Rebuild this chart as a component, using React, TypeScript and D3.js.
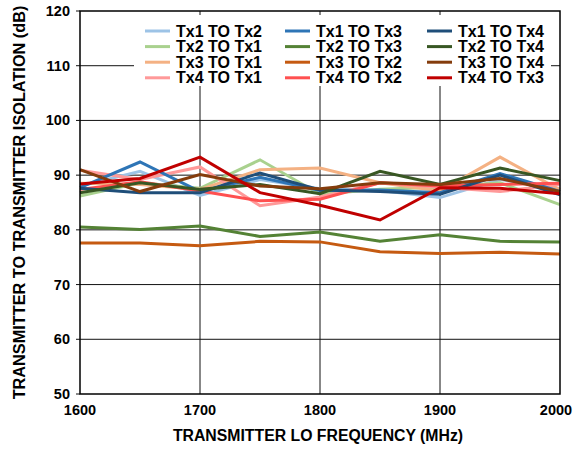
import React from "react";
import * as d3 from "d3";

const freqs = [1600, 1650, 1700, 1750, 1800, 1850, 1900, 1950, 2000];
const xTicks = [1600, 1700, 1800, 1900, 2000];
const yTicks = [50, 60, 70, 80, 90, 100, 110, 120];

// isolation (dB) per path
const tx1ToTx2 = [88, 90.7, 86.3, 89.2, 87.5, 87.2, 85.9, 89.2, 87.5];
const tx1ToTx3 = [87.7, 92.4, 87, 89.6, 87.2, 87.3, 86.8, 90.3, 87];
const tx1ToTx4 = [87.6, 86.8, 86.8, 90.4, 87.3, 87, 86.5, 90, 86.4];
const tx2ToTx1 = [86.2, 88.6, 87.6, 92.8, 86.5, 87.4, 87.8, 88.6, 84.6];
const tx2ToTx3 = [80.5, 80.05, 80.7, 78.8, 79.6, 77.9, 79.1, 77.9, 77.8];
const tx2ToTx4 = [86.8, 88.6, 87.4, 88.3, 86.6, 90.7, 88.3, 91.3, 89];
const tx3ToTx1 = [88.5, 88.3, 87.4, 91, 91.3, 88.6, 87.1, 93.3, 87.3];
const tx3ToTx2 = [77.6, 77.6, 77.1, 77.9, 77.8, 76, 75.7, 75.9, 75.6];
const tx3ToTx4 = [91, 87, 90.1, 88, 87.5, 88.6, 88.3, 89.4, 87];
const tx4ToTx1 = [90.9, 89.2, 91.5, 84.4, 86, 88.6, 87.8, 87, 88.3];
const tx4ToTx2 = [87.4, 88.8, 87.1, 85.3, 85.6, 88.6, 88, 88.3, 88.5];
const tx4ToTx3 = [88.4, 89.4, 93.3, 86.8, 84.5, 81.8, 87.7, 87.6, 86.6];

const series = [
  { name: "Tx1 TO Tx2", color: "#9dc3e6", values: tx1ToTx2 },
  { name: "Tx2 TO Tx1", color: "#a9d18e", values: tx2ToTx1 },
  { name: "Tx3 TO Tx1", color: "#f4b183", values: tx3ToTx1 },
  { name: "Tx4 TO Tx1", color: "#ff9999", values: tx4ToTx1 },
  { name: "Tx1 TO Tx3", color: "#2e75b6", values: tx1ToTx3 },
  { name: "Tx2 TO Tx3", color: "#548235", values: tx2ToTx3 },
  { name: "Tx3 TO Tx2", color: "#c55a11", values: tx3ToTx2 },
  { name: "Tx4 TO Tx2", color: "#ff5050", values: tx4ToTx2 },
  { name: "Tx1 TO Tx4", color: "#1f4e79", values: tx1ToTx4 },
  { name: "Tx2 TO Tx4", color: "#385723", values: tx2ToTx4 },
  { name: "Tx3 TO Tx4", color: "#843c0c", values: tx3ToTx4 },
  { name: "Tx4 TO Tx3", color: "#c00000", values: tx4ToTx3 },
];

const App = () => {
  const width = 574;
  const height = 449;
  const left = 80;
  const right = 560;
  const top = 11;
  const bottom = 394;

  const x = d3.scaleLinear().domain([1600, 2000]).range([left, right]);
  const y = d3.scaleLinear().domain([50, 120]).range([bottom, top]);

  const line = d3
    .line<number>()
    .x((_, i) => x(freqs[i]))
    .y((d) => y(d));

  const font = "Arial, 'Liberation Sans', sans-serif";

  // legend: 3 columns x 4 rows
  const legendCols = [145, 285, 427];
  const legendRowY = (i: number) => 31 + i * 15.6;

  return (
    <svg
      width={width}
      height={height}
      style={{ position: "absolute", left: 0, top: 0, background: "#fff" }}
      fontFamily={font}
      fontWeight="bold"
    >
      {/* grid */}
      <g stroke="#111" strokeWidth={1}>
        {xTicks.slice(1, -1).map((t) => (
          <line key={"gx" + t} x1={x(t)} x2={x(t)} y1={top} y2={bottom} />
        ))}
        {yTicks.slice(1, -1).map((t) => (
          <line key={"gy" + t} x1={left} x2={right} y1={y(t)} y2={y(t)} />
        ))}
        {yTicks.map((t) => (
          <line key={"ty" + t} x1={left - 4} x2={left} y1={y(t)} y2={y(t)} />
        ))}
      </g>

      {/* legend box covers the grid */}
      <rect x={134} y={15} width={417} height={71} fill="#fff" />

      {/* series */}
      <g fill="none" strokeWidth={3} strokeLinejoin="miter">
        {series.map((s) => (
          <path key={s.name} d={line(s.values) ?? ""} stroke={s.color} />
        ))}
      </g>

      {/* frame */}
      <rect
        x={left}
        y={top}
        width={right - left}
        height={bottom - top}
        fill="none"
        stroke="#000"
        strokeWidth={1.5}
      />

      {/* legend */}
      {series.map((s, i) => {
        const col = Math.floor(i / 4);
        const row = i % 4;
        const lx = legendCols[col];
        const ly = legendRowY(row);
        return (
          <g key={"lg" + s.name}>
            <line
              x1={lx}
              x2={lx + 25}
              y1={ly}
              y2={ly}
              stroke={s.color}
              strokeWidth={3}
            />
            <text x={lx + 31} y={ly + 5.5} fontSize={16} fill="#000">
              {s.name}
            </text>
          </g>
        );
      })}

      {/* y tick labels */}
      {yTicks.map((t) => (
        <text
          key={"yl" + t}
          x={left - 10}
          y={y(t) + 5}
          textAnchor="end"
          fontSize={14.5}
        >
          {t}
        </text>
      ))}

      {/* x tick labels */}
      {xTicks.map((t) => (
        <text
          key={"xl" + t}
          x={t === 2000 ? x(t) - 4 : x(t)}
          y={415}
          textAnchor="middle"
          fontSize={14.5}
        >
          {t}
        </text>
      ))}

      <text x={318} y={441} textAnchor="middle" fontSize={15.8}>
        TRANSMITTER LO FREQUENCY (MHz)
      </text>
      <text
        transform={`translate(25,${(top + bottom) / 2}) rotate(-90)`}
        textAnchor="middle"
        fontSize={16.3}
      >
        TRANSMITTER TO TRANSMITTER ISOLATION (dB)
      </text>
    </svg>
  );
};

export default App;
